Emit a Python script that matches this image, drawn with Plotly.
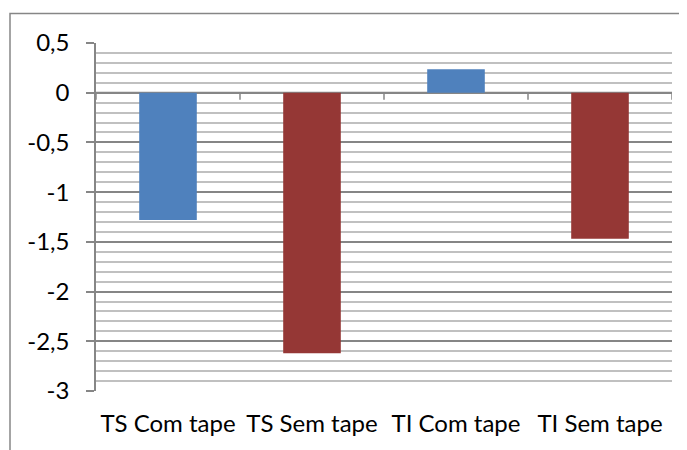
import plotly.graph_objects as go

categories = ["TS Com tape", "TS Sem tape", "TI Com tape", "TI Sem tape"]
values = [-1.28, -2.62, 0.235, -1.47]
bar_colors = ["#4F81BD", "#953735", "#4F81BD", "#953735"]
y_tickvals = [0.5, 0, -0.5, -1, -1.5, -2, -2.5, -3]
y_ticktext = ["0,5", "0", "-0,5", "-1", "-1,5", "-2", "-2,5", "-3"]

fig = go.Figure()
fig.add_trace(go.Bar(x=categories, y=values, marker=dict(color=bar_colors, line=dict(width=0)),
                     width=0.4))

shapes = []
for i in range(len(categories) + 1):
    shapes.append(dict(type="line", xref="x", yref="y", x0=i - 0.5, x1=i - 0.5, y0=0, y1=-0.07,
                       line=dict(color="#868686", width=1.5)))
shapes.append(dict(type="line", xref="paper", yref="y", x0=0, x1=1, y0=0, y1=0,
                   line=dict(color="#868686", width=2), layer="below"))
shapes.append(dict(type="rect", xref="paper", yref="paper", x0=-0.1493, x1=1.5, y0=-1, y1=1.0848,
                   line=dict(color="#868686", width=1.5)))

fig.update_layout(
    width=687, height=450,
    margin=dict(l=88, r=23, t=35, b=67),
    paper_bgcolor="white", plot_bgcolor="white",
    showlegend=False,
    bargap=0.6,
    shapes=shapes,
    font=dict(family="Lato, sans-serif", size=24, color="black"),
    xaxis=dict(showgrid=False, showline=False, ticks="", tickfont=dict(size=24),
               range=[-0.5, 3.5], ticklabelstandoff=16),
    yaxis=dict(range=[-3, 0.5], tickvals=y_tickvals, ticktext=y_ticktext,
               showgrid=True, gridcolor="#868686", gridwidth=1.5,
               showline=True, linecolor="#868686", linewidth=1.5,
               ticks="outside", ticklen=8, tickcolor="#868686", tickwidth=1.5,
               zeroline=False, tickfont=dict(size=24), ticklabelstandoff=12,
               minor=dict(dtick=0.1, tick0=0, showgrid=True, gridcolor="#c0c0c0", gridwidth=1.5, ticks="")),
)

fig.write_html("out.html")
